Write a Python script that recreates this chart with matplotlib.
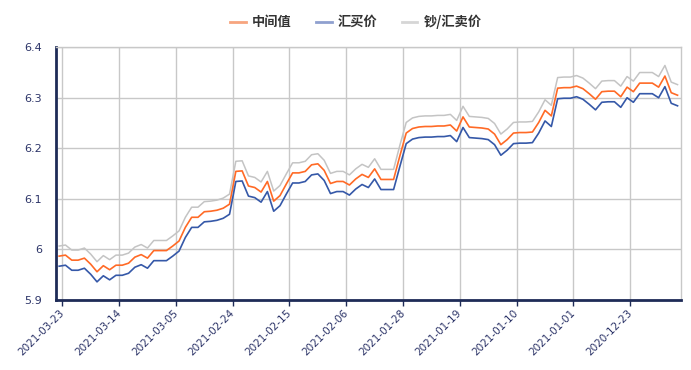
import matplotlib
matplotlib.use("Agg")
import matplotlib.pyplot as plt
from matplotlib.lines import Line2D
import pandas as pd

plt.rcParams['font.family'] = ['DejaVu Sans', 'Noto Sans CJK SC']

# Categories: daily dates, newest on the left
dates = [d.strftime('%Y-%m-%d') for d in pd.date_range('2020-12-15', '2021-03-23')[::-1]]

buy = [5.966, 5.968, 5.958, 5.958, 5.962, 5.950, 5.935, 5.947, 5.939, 5.948,
       5.948, 5.952, 5.964, 5.969, 5.962, 5.977, 5.977, 5.977, 5.986, 5.996,
       6.023, 6.043, 6.043, 6.054, 6.055, 6.057, 6.061, 6.069, 6.134, 6.135,
       6.105, 6.102, 6.093, 6.114, 6.075, 6.086, 6.109, 6.131, 6.131, 6.134,
       6.147, 6.149, 6.136, 6.110, 6.114, 6.114, 6.107, 6.119, 6.128, 6.122,
       6.139, 6.118, 6.118, 6.118, 6.164, 6.209, 6.218, 6.221, 6.222, 6.222,
       6.223, 6.223, 6.225, 6.213, 6.241, 6.221, 6.220, 6.219, 6.217, 6.207,
       6.186, 6.196, 6.209, 6.210, 6.210, 6.211, 6.230, 6.254, 6.243, 6.298,
       6.299, 6.299, 6.302, 6.297, 6.287, 6.276, 6.291, 6.292, 6.292, 6.281,
       6.300, 6.291, 6.308, 6.308, 6.308, 6.300, 6.322, 6.289, 6.284]

mid = [5.986, 5.988, 5.978, 5.978, 5.982, 5.970, 5.955, 5.967, 5.959, 5.968,
       5.968, 5.972, 5.984, 5.989, 5.982, 5.997, 5.997, 5.997, 6.006, 6.016,
       6.043, 6.063, 6.063, 6.074, 6.075, 6.077, 6.081, 6.089, 6.154, 6.155,
       6.125, 6.122, 6.113, 6.134, 6.095, 6.106, 6.129, 6.151, 6.151, 6.154,
       6.167, 6.169, 6.156, 6.130, 6.134, 6.134, 6.127, 6.139, 6.148, 6.142,
       6.159, 6.138, 6.138, 6.138, 6.185, 6.230, 6.239, 6.242, 6.243, 6.243,
       6.244, 6.244, 6.246, 6.234, 6.262, 6.242, 6.241, 6.240, 6.238, 6.228,
       6.207, 6.217, 6.230, 6.231, 6.231, 6.232, 6.251, 6.275, 6.264, 6.319,
       6.320, 6.320, 6.323, 6.318, 6.308, 6.297, 6.312, 6.313, 6.313, 6.302,
       6.321, 6.312, 6.329, 6.329, 6.329, 6.321, 6.343, 6.310, 6.305]

sell = [6.006, 6.008, 5.998, 5.998, 6.002, 5.990, 5.975, 5.987, 5.979, 5.988,
        5.988, 5.992, 6.004, 6.009, 6.002, 6.017, 6.017, 6.017, 6.026, 6.036,
        6.063, 6.083, 6.083, 6.094, 6.095, 6.097, 6.101, 6.109, 6.174, 6.175,
        6.145, 6.142, 6.133, 6.154, 6.115, 6.126, 6.149, 6.171, 6.171, 6.174,
        6.187, 6.189, 6.176, 6.150, 6.154, 6.154, 6.147, 6.159, 6.168, 6.162,
        6.179, 6.158, 6.158, 6.158, 6.206, 6.251, 6.260, 6.263, 6.264, 6.264,
        6.265, 6.265, 6.267, 6.255, 6.283, 6.263, 6.262, 6.261, 6.259, 6.249,
        6.228, 6.238, 6.251, 6.252, 6.252, 6.253, 6.272, 6.296, 6.285, 6.340,
        6.341, 6.341, 6.344, 6.339, 6.329, 6.318, 6.333, 6.334, 6.334, 6.323,
        6.342, 6.333, 6.350, 6.350, 6.350, 6.342, 6.364, 6.331, 6.326]

series_names = ['中间值', '汇买价', '钞/汇卖价']
series_colors = ['#ff6a26', '#3558a8', '#c4c4c4']
legend_colors = ['#f7a57f', '#8fa0cf', '#d6d6d6']
y_ticks = [5.9, 6.0, 6.1, 6.2, 6.3, 6.4]
y_labels = ['5.9', '6', '6.1', '6.2', '6.3', '6.4']
label_step = 9

navy = '#1e2b57'
grid_c = '#c8c8c8'
text_c = '#2c3468'

fig = plt.figure(figsize=(6.91, 3.70), dpi=100)
ax = fig.add_axes([56 / 691, 70.5 / 370, (680.7 - 56) / 691, (299.5 - 47.3) / 370])

x = list(range(len(dates)))
ax.plot(x, sell, color=series_colors[2], lw=1.1, zorder=3)
ax.plot(x, mid, color=series_colors[0], lw=1.2, zorder=4)
ax.plot(x, buy, color=series_colors[1], lw=1.2, zorder=5)

ax.set_xlim(-0.5, len(dates) - 0.5)
ax.set_ylim(5.9, 6.4)

# y axis
ax.set_yticks(y_ticks)
ax.set_yticklabels(y_labels)
ax.tick_params(axis='y', length=0, pad=10, labelsize=8, labelcolor=text_c)
ax.yaxis.grid(True, color=grid_c, lw=1)

# x axis: labels at category, grid/ticks between categories
lab_pos = list(range(0, len(dates), label_step))
ax.set_xticks(lab_pos)
ax.set_xticklabels([dates[i] for i in lab_pos], rotation=45, ha='right',
                   rotation_mode='anchor')
ax.tick_params(axis='x', which='major', length=0, pad=6, labelsize=7.5,
               labelcolor=text_c)
grid_pos = [i + 0.5 for i in lab_pos]
ax.set_xticks(grid_pos, minor=True)
ax.tick_params(axis='x', which='minor', length=4, width=1, color=navy)
ax.xaxis.grid(True, which='minor', color=grid_c, lw=1)
ax.xaxis.grid(False, which='major')
ax.set_axisbelow(True)

for s in ['left', 'bottom']:
    ax.spines[s].set_color(navy)
    ax.spines[s].set_linewidth(2)
for s in ['top', 'right']:
    ax.spines[s].set_color(grid_c)
    ax.spines[s].set_linewidth(1)

handles = [Line2D([0], [0], color=c, lw=2) for c in legend_colors]
leg = fig.legend(handles, series_names, loc='center', bbox_to_anchor=(356 / 691, 1 - 22 / 370),
                 ncol=3, frameon=False, handlelength=1.15, handletextpad=0.45,
                 columnspacing=1.9,
                 prop={'family': ['Noto Sans CJK SC', 'DejaVu Sans'], 'weight': 'bold', 'size': 9.5})
for t in leg.get_texts():
    t.set_color('#333333')

fig.savefig('out.png', dpi=100, facecolor='white')
